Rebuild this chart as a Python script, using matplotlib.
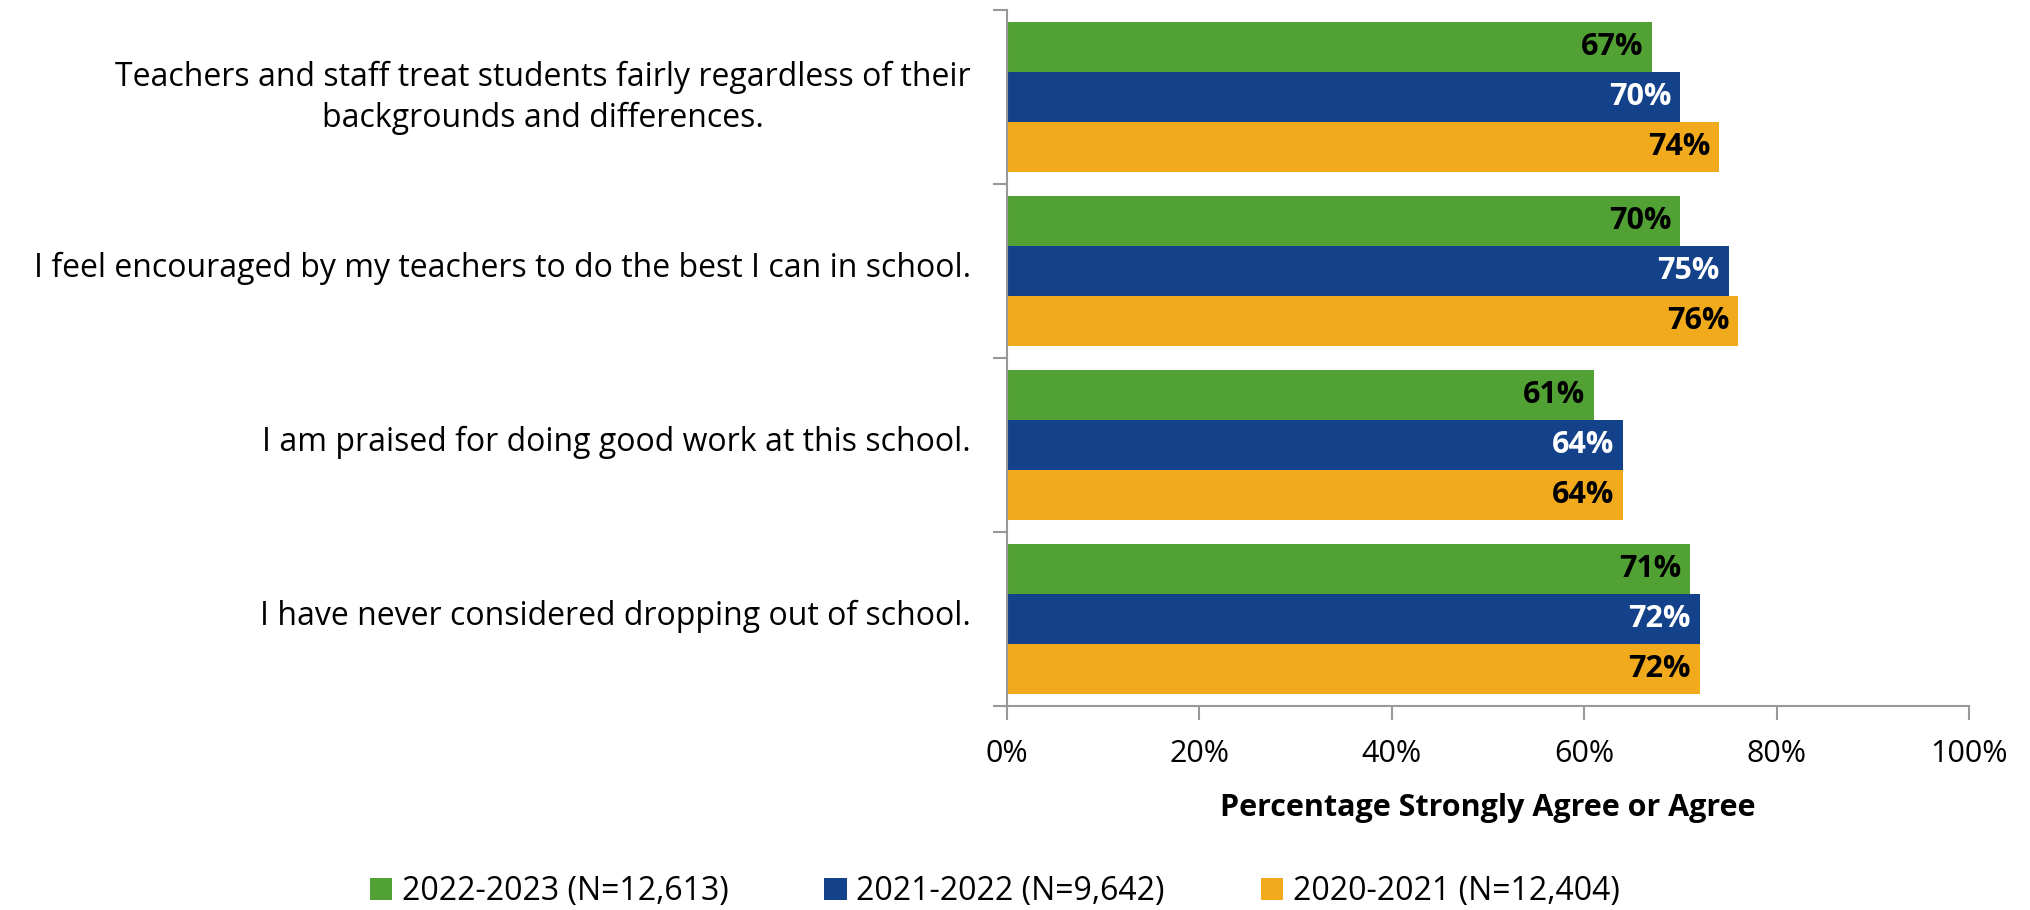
import matplotlib
matplotlib.use("Agg")
import matplotlib.pyplot as plt
import matplotlib.transforms as mtransforms
import numpy as np

plt.rcParams['font.family'] = ['Open Sans', 'DejaVu Sans']

categories = [
    "Teachers and staff treat students fairly regardless of their\nbackgrounds and differences.",
    "I feel encouraged by my teachers to do the best I can in school.",
    "I am praised for doing good work at this school.",
    "I have never considered dropping out of school.",
]
series_names = ["2022-2023 (N=12,613)", "2021-2022 (N=9,642)", "2020-2021 (N=12,404)"]
v2023 = [67, 70, 61, 71]
v2022 = [70, 75, 64, 72]
v2021 = [74, 76, 64, 72]
xticklabels = ["0%", "20%", "40%", "60%", "80%", "100%"]

colors = ["#52A135", "#14428A", "#F0AA1C"]
label_colors = ["black", "white", "black"]

fig = plt.figure(figsize=(20.3, 9.1), dpi=100)
ax = fig.add_axes([0.496, 0.2242, 0.474, 0.7648])

y = np.arange(len(categories))
h = 0.287
offsets = [-h, 0, h]
for vals, off, c, lc, name in zip([v2023, v2022, v2021], offsets, colors, label_colors, series_names):
    bars = ax.barh(y + off, vals, height=h, color=c, label=name)
    for b, v in zip(bars, vals):
        ax.text(v - 0.9, b.get_y() + b.get_height() / 2, f"{v}%", ha='right', va='center',
                color=lc, fontsize=22, fontweight='bold')

ax.set_ylim(3.5, -0.5)
ax.set_xlim(0, 100)
ax.set_yticks(y)
ax.set_yticklabels(categories, fontsize=23, multialignment='center', linespacing=1.3)
ax.tick_params(axis='y', which='major', length=0, pad=26)
ax.set_yticks(np.arange(-0.5, 4.0, 1.0), minor=True)
ax.tick_params(axis='y', which='minor', length=10, color='#999999', width=1.5)
ax.set_xticks(np.arange(0, 101, 20))
ax.set_xticklabels(xticklabels, fontsize=22)
ax.tick_params(axis='x', length=10, color='#999999', width=1.5, pad=14)
ax.set_xlabel("Percentage Strongly Agree or Agree", fontsize=22, fontweight='bold', labelpad=17)

# nudge the labels slightly upward to match the reference
shift = mtransforms.ScaledTranslation(0, 5 / 72, fig.dpi_scale_trans)
for lab in ax.get_yticklabels():
    lab.set_transform(lab.get_transform() + shift)

for s in ['top', 'right']:
    ax.spines[s].set_visible(False)
for s in ['left', 'bottom']:
    ax.spines[s].set_color('#999999')
    ax.spines[s].set_linewidth(1.5)

fig.legend(loc='lower center', bbox_to_anchor=(0.49, 0.002), ncol=3, frameon=False, fontsize=23,
           handlelength=0.7, handleheight=0.7, handletextpad=0.3, columnspacing=3.0,
           borderaxespad=0.0, borderpad=0.0)

fig.savefig("out.png", dpi=100)
